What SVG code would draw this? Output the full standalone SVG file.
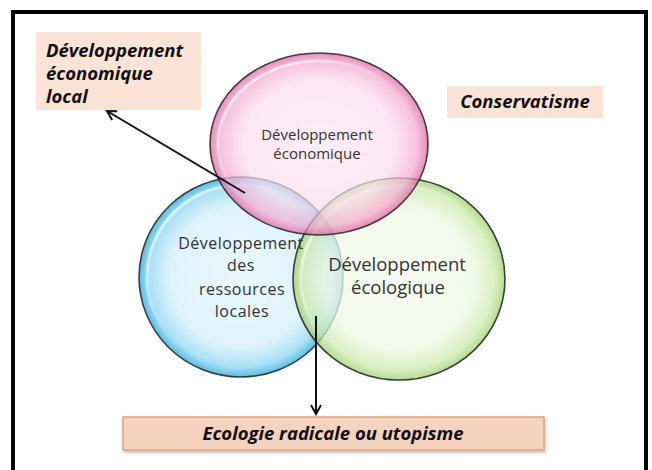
<svg xmlns="http://www.w3.org/2000/svg" width="652" height="470" viewBox="0 0 652 470">
  <defs>
    <style>
      .ctext { font-family: "Open Sans", "Liberation Sans", sans-serif; fill: #333; text-anchor: middle; }
      .btext { font-family: "Open Sans", "Liberation Sans", sans-serif; font-weight: bold; font-style: italic; fill: #111; }
      .box { fill: #fbe4d5; }
      .bubble { stroke: #222; stroke-width: 1.6; stroke-opacity: 0.85; }
      .conn { stroke: #111; stroke-width: 2; fill: none; }
    </style>
    <radialGradient id="gPink" cx="50%" cy="50%" r="50%">
      <stop offset="0" stop-color="#fde8f2"/>
      <stop offset="0.7" stop-color="#fbdcec"/>
      <stop offset="0.9" stop-color="#f3a9cf"/>
      <stop offset="1" stop-color="#e05ca0"/>
    </radialGradient>
    <radialGradient id="gBlue" cx="50%" cy="50%" r="50%">
      <stop offset="0" stop-color="#e6f6fd"/>
      <stop offset="0.7" stop-color="#d8f1fb"/>
      <stop offset="0.9" stop-color="#9adcf3"/>
      <stop offset="1" stop-color="#3bb2de"/>
    </radialGradient>
    <radialGradient id="gGreen" cx="50%" cy="50%" r="50%">
      <stop offset="0" stop-color="#f5faee"/>
      <stop offset="0.7" stop-color="#eef7e3"/>
      <stop offset="0.9" stop-color="#cde9ad"/>
      <stop offset="1" stop-color="#9cd16c"/>
    </radialGradient>
    <linearGradient id="gloss" x1="0" y1="0" x2="1" y2="1">
      <stop offset="0" stop-color="#fff" stop-opacity="0.9"/>
      <stop offset="0.5" stop-color="#fff" stop-opacity="0"/>
    </linearGradient>
    <filter id="shadow" x="-5%" y="-20%" width="110%" height="150%">
      <feDropShadow dx="1" dy="2" stdDeviation="1.5" flood-color="#000" flood-opacity="0.25"/>
    </filter>
    <marker id="arr" markerWidth="12" markerHeight="12" refX="10" refY="6" orient="auto" markerUnits="userSpaceOnUse">
      <path d="M1,1 L10,6 L1,11" fill="none" stroke="#111" stroke-width="2"/>
    </marker>
  </defs>

  <rect x="0" y="0" width="652" height="470" fill="#fff"/>
  <!-- outer frame -->
  <path d="M13,475 L13,12 L646,12 L646,475" fill="none" stroke="#000" stroke-width="4"/>

  <g id="node-dev-eco-local">
    <rect class="box" x="36" y="32" width="165" height="78"/>
    <text class="btext" font-size="18.5" x="46" y="57">Développement</text>
    <text class="btext" font-size="18.5" x="46" y="80">économique</text>
    <text class="btext" font-size="18.5" x="46" y="103">local</text>
  </g>

  <g id="node-conservatisme">
    <rect class="box" x="447" y="86" width="156" height="32"/>
    <text class="btext" font-size="18.5" x="525" y="108" text-anchor="middle">Conservatisme</text>
  </g>

  <g id="node-ressources">
    <ellipse class="bubble" cx="241" cy="277" rx="102" ry="100" fill="url(#gBlue)" fill-opacity="0.85"/>
    <ellipse cx="241" cy="277" rx="94" ry="92" fill="none" stroke="url(#gloss)" stroke-width="3"/>
  </g>

  <g id="node-ecologique">
    <ellipse class="bubble" cx="399" cy="279" rx="106" ry="101" fill="url(#gGreen)" fill-opacity="0.75"/>
    <ellipse cx="399" cy="279" rx="98" ry="93" fill="none" stroke="url(#gloss)" stroke-width="3"/>
  </g>

  <g id="node-economique">
    <ellipse class="bubble" cx="319" cy="144" rx="109" ry="91" fill="url(#gPink)" fill-opacity="0.7"/>
    <ellipse cx="319" cy="144" rx="101" ry="83" fill="none" stroke="url(#gloss)" stroke-width="3"/>
  </g>

  <g id="labels">
    <text class="ctext" font-size="15" x="317" y="140">Développement</text>
    <text class="ctext" font-size="15" x="317" y="159">économique</text>
    <text class="ctext" font-size="16" letter-spacing="0.5" x="241" y="249">Développement</text>
    <text class="ctext" font-size="16" letter-spacing="0.5" x="241" y="271">des</text>
    <text class="ctext" font-size="16" letter-spacing="0.5" x="242" y="295">ressources</text>
    <text class="ctext" font-size="16" letter-spacing="0.5" x="242" y="317">locales</text>
    <text class="ctext" font-size="18.5" x="397" y="271">Développement</text>
    <text class="ctext" font-size="18.5" x="398" y="294">écologique</text>
  </g>

  <g id="node-ecologie-radicale">
    <rect x="123" y="417" width="421" height="33" fill="#f4d3bf" stroke="#e8a070" stroke-width="1.5" filter="url(#shadow)"/>
    <text class="btext" font-size="18.5" x="333" y="440" text-anchor="middle">Ecologie radicale ou utopisme</text>
  </g>

  <g id="connectors">
    <line class="conn" x1="245" y1="193" x2="107" y2="111" marker-end="url(#arr)"/>
    <line class="conn" x1="316" y1="316" x2="316" y2="414" marker-end="url(#arr)"/>
  </g>
</svg>
